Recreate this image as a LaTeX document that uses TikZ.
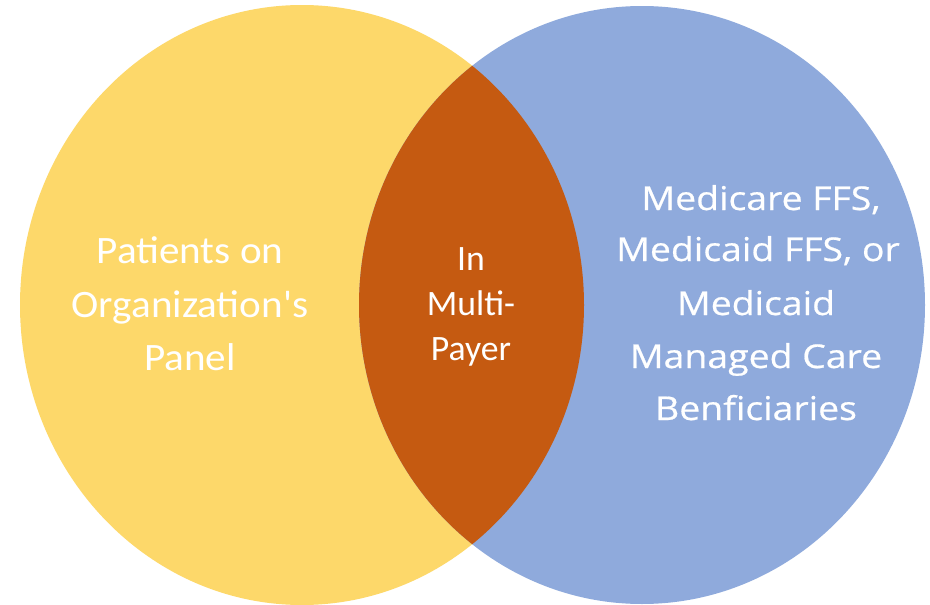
\documentclass[tikz,border=0pt]{standalone}
\usepackage{fontspec}
\newfontfamily\leftf[FakeStretch=1.06]{Carlito}
\newfontfamily\midf{Carlito}
\newfontfamily\rightf[FakeStretch=1.14,FakeBold=0.6]{Open Sans}
\definecolor{vyellow}{RGB}{253,216,106}
\definecolor{vblue}{RGB}{143,170,220}
\definecolor{vorange}{RGB}{197,90,17}
\tikzset{
  lefttxt/.style={anchor=base, inner sep=0pt, text=white, font=\leftf\fontsize{38.8}{46}\selectfont},
  midtxt/.style={anchor=base, inner sep=0pt, text=white, font=\midf\fontsize{35.7}{43}\selectfont},
  righttxt/.style={anchor=base, inner sep=0pt, text=white, font=\rightf\fontsize{32.8}{40}\selectfont},
}
\begin{document}
\begin{tikzpicture}[x=1pt,y=-1pt]
\useasboundingbox (0,0) rectangle (930,605);
\fill[white] (0,0) rectangle (930,605);
\fill[vyellow] (302,305) ellipse [x radius=282, y radius=300];
\fill[vblue] (642,305) ellipse [x radius=283, y radius=299];
\begin{scope}
  \clip (302,305) ellipse [x radius=282, y radius=300];
  \fill[vorange] (642,305) ellipse [x radius=283, y radius=299];
\end{scope}
\node[lefttxt] (l1) at (190,263) {Patients on};
\node[lefttxt] (l2) at (190,317) {Organization's};
\node[lefttxt] (l3) at (190,370) {Panel};
\node[midtxt] (m1) at (471,270) {In};
\node[midtxt] (m2) at (471,315) {Multi-};
\node[midtxt] (m3) at (471,360) {Payer};
\node[righttxt] (r1) at (761,210) {Medicare FFS,};
\node[righttxt] (r2) at (758,261) {Medicaid FFS, or};
\node[righttxt] (r3) at (756,315) {Medicaid};
\node[righttxt] (r4) at (756,368) {Managed Care};
\node[righttxt] (r5) at (756,420) {Benficiaries};
\end{tikzpicture}
\end{document}
